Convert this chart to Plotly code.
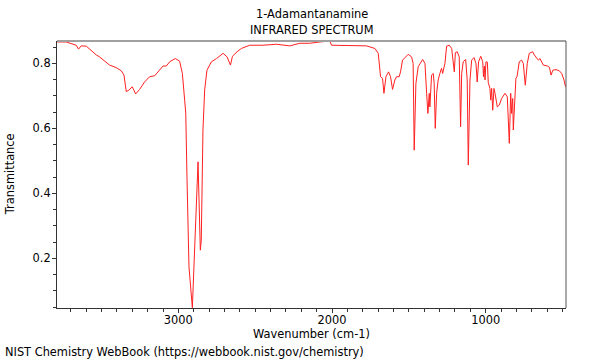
import plotly.graph_objects as go

wavenumber = [3790, 3730, 3665, 3650, 3632, 3599, 3534, 3513, 3448, 3404, 3371, 3354, 3339, 3322, 3300,
              3278, 3252, 3220, 3187, 3154, 3100, 3078, 3057, 3020, 2992, 2974, 2959, 2952, 2944, 2931,
              2909, 2872, 2857, 2851, 2845, 2840, 2829, 2814, 2785, 2752, 2709, 2683, 2661, 2648, 2618,
              2590, 2536, 2449, 2362, 2275, 2210, 2145, 2079, 2014, 2003, 1928, 1775, 1721, 1699, 1684,
              1671, 1662, 1649, 1632, 1619, 1606, 1591, 1580, 1563, 1554, 1541, 1504, 1482, 1472, 1465,
              1454, 1439, 1410, 1395, 1384, 1376, 1367, 1363, 1352, 1341, 1335, 1328, 1319, 1309, 1298,
              1287, 1280, 1265, 1254, 1237, 1221, 1204, 1197, 1185, 1172, 1163, 1156, 1146, 1130, 1120,
              1113, 1102, 1091, 1076, 1063, 1055, 1046, 1032, 1019, 1014, 1008, 1004, 998, 989, 983,
              972, 967, 961, 954, 946, 939, 924, 911, 896, 874, 859, 846, 837, 831, 824,
              820, 809, 803, 796, 781, 766, 755, 742, 729, 716, 694, 683, 668, 657, 646,
              635, 625, 598, 585, 574, 563, 542, 520, 505, 490, 480]
transmittance = [0.866, 0.866, 0.856, 0.844, 0.854, 0.853, 0.826, 0.820, 0.795, 0.787, 0.777, 0.764, 0.713, 0.718, 0.728,
                 0.706, 0.720, 0.743, 0.759, 0.762, 0.792, 0.792, 0.805, 0.815, 0.807, 0.769, 0.687, 0.647, 0.451, 0.174,
                 0.048, 0.497, 0.225, 0.256, 0.441, 0.595, 0.718, 0.779, 0.805, 0.815, 0.831, 0.820, 0.795, 0.822, 0.836,
                 0.846, 0.856, 0.856, 0.859, 0.854, 0.862, 0.862, 0.866, 0.869, 0.856, 0.856, 0.854, 0.846, 0.831, 0.759,
                 0.754, 0.708, 0.759, 0.774, 0.759, 0.720, 0.749, 0.759, 0.759, 0.774, 0.810, 0.828, 0.820, 0.800, 0.533,
                 0.738, 0.790, 0.812, 0.800, 0.708, 0.646, 0.708, 0.666, 0.764, 0.769, 0.738, 0.600, 0.708, 0.749, 0.769,
                 0.785, 0.769, 0.800, 0.853, 0.856, 0.846, 0.774, 0.833, 0.836, 0.820, 0.605, 0.769, 0.805, 0.812, 0.749,
                 0.487, 0.749, 0.810, 0.818, 0.800, 0.743, 0.805, 0.822, 0.805, 0.759, 0.792, 0.749, 0.805, 0.804, 0.741,
                 0.723, 0.687, 0.723, 0.656, 0.723, 0.708, 0.666, 0.672, 0.692, 0.708, 0.697, 0.554, 0.708, 0.646, 0.692,
                 0.595, 0.697, 0.754, 0.759, 0.805, 0.810, 0.800, 0.733, 0.800, 0.831, 0.836, 0.826, 0.815, 0.810, 0.815,
                 0.805, 0.795, 0.792, 0.788, 0.764, 0.779, 0.781, 0.777, 0.769, 0.749, 0.728]

x_ticks = [3000, 2000, 1000]
y_ticks = [0.2, 0.4, 0.6, 0.8]
title_lines = ["1-Adamantanamine", "INFRARED SPECTRUM"]

FONT = "DejaVu Sans"
FS = 11.4

fig = go.Figure()
fig.add_trace(go.Scatter(x=wavenumber, y=transmittance, mode="lines",
                         line=dict(color="#ff2020", width=1), hoverinfo="skip"))

axis_common = dict(showgrid=False, zeroline=False, showline=True, linecolor="#333333", linewidth=1,
                   ticks="outside", ticklen=4, tickcolor="#333333",
                   tickfont=dict(family=FONT, size=FS, color="#000000"))

fig.update_layout(
    width=600, height=360,
    margin=dict(l=57, r=34, t=41, b=52),
    paper_bgcolor="white", plot_bgcolor="white",
    showlegend=False,
    xaxis=dict(range=[3790, 477], tickvals=x_ticks, ticktext=[str(v) for v in x_ticks],
               ticklabelstandoff=-3,
               minor=dict(dtick=100, tick0=0, ticks="outside", ticklen=3, tickcolor="#333333"),
               **axis_common),
    yaxis=dict(range=[0.047, 0.869], tickvals=y_ticks, ticktext=[f"{v:.1f}" for v in y_ticks],
               ticklabelstandoff=-1,
               minor=dict(dtick=0.05, tick0=0, ticks="outside", ticklen=3, tickcolor="#333333"),
               **axis_common),
    shapes=[
        dict(type="line", xref="paper", yref="paper", x0=0, x1=1, y0=1, y1=1,
             line=dict(color="#a0a0a0", width=2)),
        dict(type="line", xref="paper", yref="paper", x0=1, x1=1, y0=0, y1=1,
             line=dict(color="#555555", width=1)),
    ],
    annotations=[
        dict(text=title_lines[0], xref="paper", yref="paper", x=0.5, y=1.101, xanchor="center", yanchor="middle",
             showarrow=False, font=dict(family=FONT, size=FS, color="black")),
        dict(text=title_lines[1], xref="paper", yref="paper", x=0.5, y=1.040, xanchor="center", yanchor="middle",
             showarrow=False, font=dict(family=FONT, size=FS, color="black")),
        dict(text="Wavenumber (cm-1)", xref="paper", yref="paper", x=0.5, y=-0.096, xanchor="center", yanchor="middle",
             showarrow=False, font=dict(family=FONT, size=FS, color="black")),
        dict(text="Transmittance", xref="paper", yref="paper", x=-0.093, y=0.5, xanchor="center", yanchor="middle",
             textangle=-90, showarrow=False, font=dict(family=FONT, size=FS, color="black")),
        dict(text="NIST Chemistry WebBook (https://webbook.nist.gov/chemistry)", xref="paper", yref="paper",
             x=-0.107, y=-0.165, xanchor="left", yanchor="middle",
             showarrow=False, font=dict(family=FONT, size=FS, color="black")),
    ],
)

fig.write_html("out.html", config={"displayModeBar": False},
               post_script="document.body.style.margin='0';document.body.style.padding='0';")
